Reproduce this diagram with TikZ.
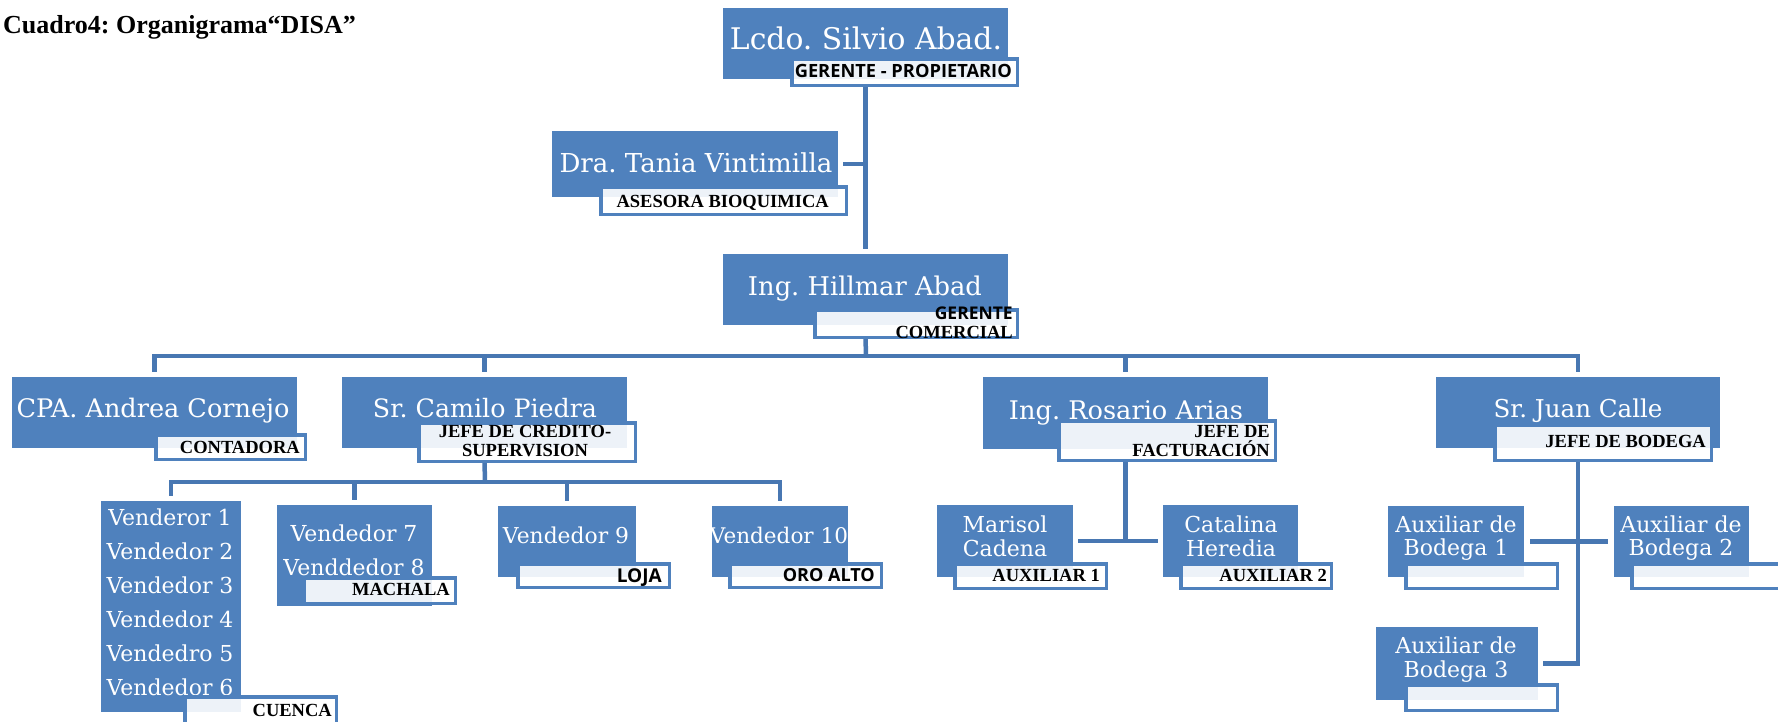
\documentclass[tikz,border=0pt]{standalone}
\usepackage{fontspec}
\usepackage{graphicx}
\setmainfont{Liberation Serif}
\newfontfamily\nmfont{DejaVu Serif}
\newfontfamily\lbfont{Liberation Serif}
\newfontfamily\sbfont{Open Sans}
\usetikzlibrary{backgrounds}
\frenchspacing
\definecolor{boxblue}{HTML}{4F81BD}
\definecolor{connblue}{HTML}{4877B2}
\newcommand\fitw[2]{\resizebox{#1pt}{!}{#2}}
\newcommand\bbox[5]{\node[bluebox, minimum width={(#4-#2)*1pt}, minimum height={(#5-#3)*1pt}] (#1) at ({(#2+#4)/2},{(#3+#5)/2}) {};}
\newcommand\lbox[5]{\node[labbox, minimum width={(#4-#2-3.5)*1pt}, minimum height={(#5-#3-3.5)*1pt}] (#1) at ({(#2+#4)/2},{(#3+#5)/2}) {};}
\tikzset{
  bluebox/.style={rectangle, fill=boxblue, draw=none, inner sep=0pt, outer sep=0pt},
  labbox/.style={rectangle, fill=white, fill opacity=0.9, draw=boxblue, draw opacity=1, line width=3.5pt, inner sep=0pt, outer sep=0pt},
  nm/.style={text=white, font=\nmfont, inner sep=0pt, anchor=base},
  nms/.style={text=white, font=\nmfont\fontsize{22}{24}\selectfont, inner sep=0pt, anchor=base},
  lb/.style={text=black, font=\lbfont\bfseries\fontsize{18.5}{20}\selectfont, inner sep=0pt, anchor=base east},
  lbc/.style={lb, anchor=base},
  lbs/.style={text=black, font=\sbfont\bfseries, inner sep=0pt, anchor=base east},
  conn/.style={draw=connblue, line width=4.5pt},
}
\begin{document}
\begin{tikzpicture}[x=1pt, y=-1pt]
\useasboundingbox (0,0) rectangle (1778,721);
\clip (0,0) rectangle (1778,721);

\node[anchor=base west, font=\bfseries\fontsize{26}{30}\selectfont, inner sep=0pt] (title) at (3,33) {Cuadro4: Organigrama“DISA”};

% blue boxes
\bbox{silvio}{723}{8}{1008}{79}
\bbox{tania}{552}{131}{838}{197}
\bbox{hillmar}{723}{254}{1008}{325}
\bbox{cpa}{12}{377}{297}{448}
\bbox{camilo}{342}{377}{627}{448}
\bbox{rosario}{983}{377}{1268}{449}
\bbox{juan}{1436}{377}{1720}{448}
\bbox{v16}{101}{501}{241}{712}
\bbox{v78}{277}{505}{432}{606}
\bbox{v9}{498}{506}{636}{577}
\bbox{v10}{712}{506}{848}{577}
\bbox{marisol}{937}{505}{1073}{577}
\bbox{catalina}{1163}{505}{1298}{577}
\bbox{aux1}{1388}{506}{1524}{577}
\bbox{aux2}{1614}{506}{1749}{577}
\bbox{aux3}{1376}{627}{1538}{700}

% name texts
\node[nm] (silvio-t) at (866,49) {\fitw{272}{Lcdo. Silvio Abad.}};
\node[nm] (tania-t) at (696,172) {\fitw{273}{Dra. Tania Vintimilla}};
\node[nm] (hillmar-t) at (865,295) {\fitw{234}{Ing. Hillmar Abad}};
\node[nm] (cpa-t) at (153,417) {\fitw{273}{CPA. Andrea Cornejo}};
\node[nm] (camilo-t) at (485,417) {\fitw{224}{Sr. Camilo Piedra}};
\node[nm] (rosario-t) at (1126,419) {\fitw{234}{Ing. Rosario Arias}};
\node[nm] (juan-t) at (1578,417) {\fitw{169}{Sr. Juan Calle}};
\node[nm] (v9-t) at (566,543) {\fitw{126}{Vendedor 9}};
\node[nm] (v10-t) at (779,543) {\fitw{138}{Vendedor 10}};

\node[nms] (v16-t1) at (170,525) {Venderor 1};
\node[nms] (v16-t2) at (170,559) {Vendedor 2};
\node[nms] (v16-t3) at (170,593) {Vendedor 3};
\node[nms] (v16-t4) at (170,627) {Vendedor 4};
\node[nms] (v16-t5) at (170,661) {Vendedro 5};
\node[nms] (v16-t6) at (170,695) {Vendedor 6};
\node[nms] (v78-t1) at (354,541) {Vendedor 7};
\node[nms] (v78-t2) at (354,575) {Venddedor 8};
\node[nms] (marisol-t1) at (1005,532) {Marisol};
\node[nms] (marisol-t2) at (1005,556) {Cadena};
\node[nms] (catalina-t1) at (1231,532) {Catalina};
\node[nms] (catalina-t2) at (1231,556) {Heredia};
\node[nms] (aux1-t1) at (1456,532) {Auxiliar de};
\node[nms] (aux1-t2) at (1456,555) {Bodega 1};
\node[nms] (aux2-t1) at (1681,532) {Auxiliar de};
\node[nms] (aux2-t2) at (1681,555) {Bodega 2};
\node[nms] (aux3-t1) at (1456,653) {Auxiliar de};
\node[nms] (aux3-t2) at (1456,677) {Bodega 3};

% label boxes
\lbox{Lsilvio}{790}{57}{1019}{87}
\lbox{Ltania}{599}{185}{848}{216}
\lbox{Lhillmar}{813}{308}{1019}{339}
\lbox{Lcpa}{154}{433}{307}{461}
\lbox{Lcamilo}{417}{421}{637}{463}
\lbox{Lrosario}{1057}{419}{1277}{462}
\lbox{Ljuan}{1493}{423}{1713}{462}
\lbox{Lv16}{183}{695}{338}{728}
\lbox{Lv78}{302}{576}{457}{605}
\lbox{Lv9}{516}{562}{671}{589}
\lbox{Lv10}{728}{562}{883}{589}
\lbox{Lmarisol}{953}{562}{1108}{590}
\lbox{Lcatalina}{1179}{562}{1333}{590}
\lbox{Laux1}{1404}{562}{1559}{590}
\lbox{Laux2}{1630}{562}{1785}{590}
\lbox{Laux3}{1404}{683}{1559}{712}

% label texts
\node[lbs] (Lsilvio-t) at (1012,77) {\fitw{217}{GERENTE - PROPIETARIO}};
\node[lb] (Ltania-t) at (829,207) {ASESORA BIOQUIMICA};
\node[lbs] (Lhillmar-t1) at (1013,319) {\fitw{78}{GERENTE}};
\node[lb] (Lhillmar-t2) at (1013,338) {COMERCIAL};
\node[lb] (Lcpa-t) at (300,453) {CONTADORA};
\node[lbc] (Lcamilo-t1) at (525,437) {JEFE DE CREDITO-};
\node[lbc] (Lcamilo-t2) at (525,456) {SUPERVISION};
\node[lb] (Lrosario-t1) at (1270,437) {JEFE DE};
\node[lb] (Lrosario-t2) at (1270,456) {FACTURACIÓN};
\node[lb] (Ljuan-t) at (1706,447) {JEFE DE BODEGA};
\node[lb] (Lv16-t) at (332,716) {CUENCA};
\node[lb] (Lv78-t) at (450,595) {MACHALA};
\node[lbs] (Lv9-t) at (662,582) {\fitw{45}{LOJA}};
\node[lbs] (Lv10-t) at (875,581) {\fitw{92}{ORO ALTO}};
\node[lb] (Lmarisol-t) at (1100,581) {AUXILIAR 1};
\node[lb] (Lcatalina-t) at (1327,581) {AUXILIAR 2};

% connectors
\begin{scope}[on background layer]
\draw[conn, shorten >=5pt] (silvio |- Lsilvio.south) -- (hillmar.north);
\draw[conn, shorten <=5pt] (tania.east) -- (tania.east -| silvio);
\coordinate (hb) at (866,356);
\draw[conn] (hillmar |- Lhillmar.south) -- (hb);
\draw[conn, shorten >=5pt] (hb) -| (cpa.north);
\draw[conn, shorten >=5pt] (hb) -| (camilo.north);
\draw[conn, shorten >=5pt] (hb) -| (rosario.north);
\draw[conn, shorten >=5pt] (hb) -| (juan.north);
\coordinate (cb) at (485,482);
\draw[conn] (camilo |- Lcamilo.south) -- (cb);
\draw[conn, shorten >=5pt] (cb) -| (v16.north);
\draw[conn, shorten >=5pt] (cb) -| (v78.north);
\draw[conn, shorten >=5pt] (cb) -| (v9.north);
\draw[conn, shorten >=5pt] (cb) -| (v10.north);
\draw[conn] (rosario |- Lrosario.south) -- (rosario |- marisol.east);
\draw[conn, shorten <=5pt, shorten >=5pt] (marisol.east) -- (catalina.west);
\draw[conn, shorten >=5pt] (juan |- Ljuan.south) |- (aux3.east);
\draw[conn, shorten <=6pt, shorten >=6pt] (aux1.east) -- (aux2.west);
\end{scope}
\end{tikzpicture}
\end{document}
